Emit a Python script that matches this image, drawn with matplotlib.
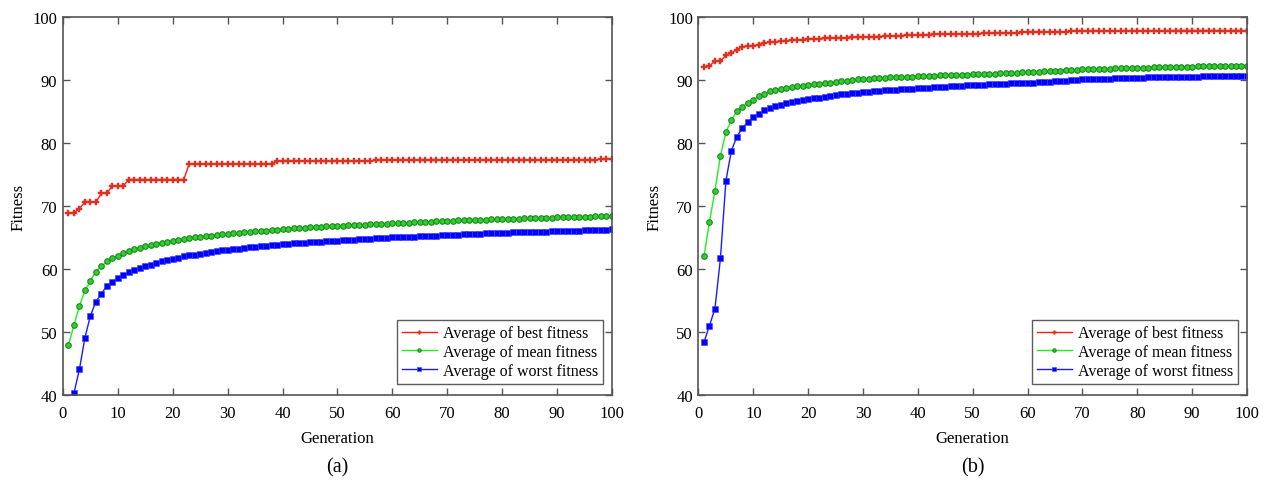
"""
GA convergence curves, two panels (a) and (b).
"""

import numpy as np
from matplotlib import pyplot as plt

plt.rcParams['font.family'] = ['Liberation Serif', 'DejaVu Serif']

generations = list(range(1, 101))

# panel (a)
best_a = [68.9, 68.9, 69.6, 70.6, 70.6, 70.6, 72.0, 72.0, 73.2, 73.2,
          73.2, 74.2, 74.2, 74.2, 74.2, 74.2, 74.2, 74.2, 74.2, 74.2,
          74.2, 74.2, 76.7, 76.7, 76.7, 76.7, 76.7, 76.7, 76.7, 76.7,
          76.7, 76.7, 76.7, 76.7, 76.7, 76.7, 76.7, 76.7, 77.1, 77.1,
          77.1, 77.1, 77.1, 77.1, 77.1, 77.1, 77.1, 77.1, 77.1, 77.1,
          77.1, 77.1, 77.1, 77.1, 77.1, 77.1, 77.3, 77.3, 77.3, 77.3,
          77.3, 77.3, 77.3, 77.3, 77.3, 77.3, 77.3, 77.3, 77.3, 77.3,
          77.3, 77.3, 77.3, 77.3, 77.3, 77.3, 77.3, 77.3, 77.3, 77.3,
          77.3, 77.3, 77.3, 77.3, 77.3, 77.3, 77.3, 77.3, 77.3, 77.3,
          77.3, 77.3, 77.3, 77.3, 77.3, 77.3, 77.3, 77.5, 77.5, 77.5]
mean_a = [47.9, 51.1, 54.1, 56.6, 58.1, 59.6, 60.4, 61.2, 61.7, 62.1,
          62.5, 62.8, 63.1, 63.4, 63.6, 63.8, 64.0, 64.2, 64.35, 64.5,
          64.6, 64.75, 64.85, 65.0, 65.1, 65.2, 65.3, 65.4, 65.5, 65.6,
          65.7, 65.75, 65.85, 65.9, 66.0, 66.05, 66.1, 66.2, 66.25, 66.3,
          66.4, 66.45, 66.5, 66.55, 66.6, 66.65, 66.7, 66.75, 66.8, 66.85,
          66.9, 66.95, 67.0, 67.0, 67.05, 67.1, 67.15, 67.2, 67.2, 67.25,
          67.3, 67.35, 67.35, 67.4, 67.45, 67.5, 67.5, 67.55, 67.6, 67.65,
          67.65, 67.7, 67.7, 67.75, 67.8, 67.8, 67.85, 67.9, 67.9, 67.95,
          67.95, 68.0, 68.0, 68.05, 68.05, 68.1, 68.1, 68.15, 68.15, 68.2,
          68.2, 68.25, 68.25, 68.3, 68.3, 68.3, 68.35, 68.35, 68.4, 68.4]
worst_a = [33.0, 40.3, 44.1, 49.1, 52.6, 54.8, 56.1, 57.3, 58.0, 58.6,
           59.0, 59.5, 59.8, 60.1, 60.4, 60.7, 60.9, 61.2, 61.4, 61.6,
           61.8, 62.0, 62.15, 62.3, 62.45, 62.6, 62.7, 62.8, 62.95, 63.05,
           63.15, 63.25, 63.35, 63.45, 63.5, 63.6, 63.7, 63.75, 63.85, 63.9,
           64.0, 64.05, 64.1, 64.2, 64.25, 64.3, 64.35, 64.4, 64.45, 64.5,
           64.55, 64.6, 64.65, 64.7, 64.75, 64.8, 64.85, 64.9, 64.95, 65.0,
           65.05, 65.1, 65.1, 65.15, 65.2, 65.25, 65.3, 65.3, 65.35, 65.4,
           65.45, 65.45, 65.5, 65.55, 65.55, 65.6, 65.65, 65.65, 65.7, 65.75,
           65.75, 65.8, 65.8, 65.85, 65.85, 65.9, 65.9, 65.95, 66.0, 66.0,
           66.05, 66.05, 66.1, 66.1, 66.15, 66.15, 66.2, 66.2, 66.25, 66.3]

# panel (b)
best_b = [92.1, 92.25, 93.0, 93.0, 93.9, 94.3, 94.8, 95.3, 95.4, 95.45,
          95.6, 95.85, 96.0, 96.05, 96.15, 96.2, 96.3, 96.35, 96.4, 96.5,
          96.5, 96.55, 96.6, 96.6, 96.65, 96.7, 96.7, 96.75, 96.75, 96.8,
          96.85, 96.9, 96.9, 96.95, 97.0, 97.0, 97.05, 97.1, 97.15, 97.2,
          97.2, 97.2, 97.25, 97.25, 97.25, 97.3, 97.3, 97.3, 97.35, 97.35,
          97.35, 97.4, 97.4, 97.4, 97.45, 97.45, 97.5, 97.5, 97.55, 97.6,
          97.6, 97.6, 97.6, 97.65, 97.65, 97.65, 97.65, 97.8, 97.8, 97.8,
          97.8, 97.8, 97.8, 97.8, 97.8, 97.8, 97.8, 97.8, 97.8, 97.8,
          97.8, 97.8, 97.8, 97.8, 97.85, 97.85, 97.85, 97.85, 97.85, 97.85,
          97.85, 97.85, 97.85, 97.85, 97.85, 97.85, 97.85, 97.85, 97.85, 97.85]
mean_b = [62.0, 67.5, 72.4, 78.0, 81.7, 83.7, 85.0, 85.75, 86.4, 86.9,
          87.4, 87.8, 88.2, 88.4, 88.6, 88.75, 88.9, 89.0, 89.1, 89.2,
          89.3, 89.4, 89.5, 89.6, 89.7, 89.8, 89.9, 90.0, 90.1, 90.15,
          90.2, 90.25, 90.3, 90.35, 90.4, 90.45, 90.5, 90.5, 90.55, 90.6,
          90.65, 90.65, 90.7, 90.75, 90.75, 90.8, 90.8, 90.85, 90.85, 90.9,
          90.95, 90.95, 91.0, 91.0, 91.05, 91.1, 91.1, 91.15, 91.2, 91.25,
          91.3, 91.3, 91.35, 91.4, 91.45, 91.5, 91.55, 91.6, 91.65, 91.7,
          91.7, 91.75, 91.75, 91.8, 91.8, 91.85, 91.85, 91.9, 91.9, 91.95,
          91.95, 91.95, 92.0, 92.0, 92.0, 92.05, 92.05, 92.1, 92.1, 92.1,
          92.15, 92.15, 92.2, 92.2, 92.2, 92.25, 92.25, 92.25, 92.3, 92.3]
worst_b = [48.4, 51.0, 53.7, 61.7, 74.0, 78.8, 81.0, 82.4, 83.3, 84.1,
           84.6, 85.2, 85.5, 85.8, 86.1, 86.3, 86.5, 86.7, 86.85, 87.0,
           87.1, 87.2, 87.35, 87.45, 87.6, 87.7, 87.8, 87.9, 88.0, 88.1,
           88.15, 88.2, 88.3, 88.35, 88.4, 88.45, 88.5, 88.55, 88.6, 88.7,
           88.75, 88.8, 88.85, 88.9, 88.95, 89.0, 89.05, 89.1, 89.15, 89.2,
           89.2, 89.25, 89.3, 89.35, 89.35, 89.4, 89.45, 89.5, 89.55, 89.6,
           89.6, 89.65, 89.7, 89.75, 89.8, 89.85, 89.9, 89.95, 90.0, 90.1,
           90.1, 90.15, 90.15, 90.2, 90.2, 90.25, 90.25, 90.3, 90.3, 90.35,
           90.35, 90.4, 90.4, 90.4, 90.45, 90.45, 90.5, 90.5, 90.55, 90.55,
           90.55, 90.6, 90.6, 90.6, 90.65, 90.65, 90.65, 90.7, 90.7, 90.7]

series_labels = ["Average of best fitness", "Average of mean fitness",
                 "Average of worst fitness"]
panel_tags = ["(a)", "(b)"]


def DrawPanel(ax, best, mean, worst, tag):
    ax.plot(generations, best, color='#ff1a1a', lw=1.0, marker='P',
            ms=4.5, mfc='#e03020', mec='#e03020', mew=0.3,
            label=series_labels[0])
    ax.plot(generations, mean, color='#22ee22', lw=1.0, marker='o',
            ms=4.0, mfc='#33cc33', mec='#1a8a1a', mew=0.8,
            label=series_labels[1])
    ax.plot(generations, worst, color='#1a1aff', lw=1.0, marker='s',
            ms=4.8, mfc='#0000ff', mec='#4040ff', mew=0.4,
            label=series_labels[2])

    ax.set_xlim(0, 100)
    ax.set_ylim(40, 100)
    ax.set_xticks(np.arange(0, 101, 10))
    ax.set_yticks(np.arange(40, 101, 10))
    ax.tick_params(direction='in', top=True, right=True, length=5,
                   width=1, color='#555555', labelsize=12)
    ax.tick_params(axis='x', pad=7)
    ax.tick_params(axis='y', pad=4)
    for sp in ax.spines.values():
        sp.set_color('#555555')
        sp.set_linewidth(1.2)

    ax.set_xlabel("Generation", fontsize=12, labelpad=7)
    ax.set_ylabel("Fitness", fontsize=12, labelpad=4)
    ax.text(0.5, -0.19, tag, transform=ax.transAxes, ha='center',
            va='center', fontsize=14.5)

    leg = ax.legend(loc='lower right', bbox_to_anchor=(0.983, 0.03),
                    fontsize=11.5, frameon=True, fancybox=False,
                    handlelength=2.2, handletextpad=0.35, labelspacing=0.18,
                    borderpad=0.3, markerscale=0.6, borderaxespad=0)
    leg.get_frame().set_edgecolor('#333333')
    leg.get_frame().set_linewidth(1.0)


fig = plt.figure(figsize=(12.67, 4.81), dpi=100)
ax0 = fig.add_axes([0.0497, 0.1767, 0.4333, 0.7859])
ax1 = fig.add_axes([0.5513, 0.1767, 0.4329, 0.7859])

DrawPanel(ax0, best_a, mean_a, worst_a, panel_tags[0])
DrawPanel(ax1, best_b, mean_b, worst_b, panel_tags[1])

plt.savefig("out.png", dpi=100)
